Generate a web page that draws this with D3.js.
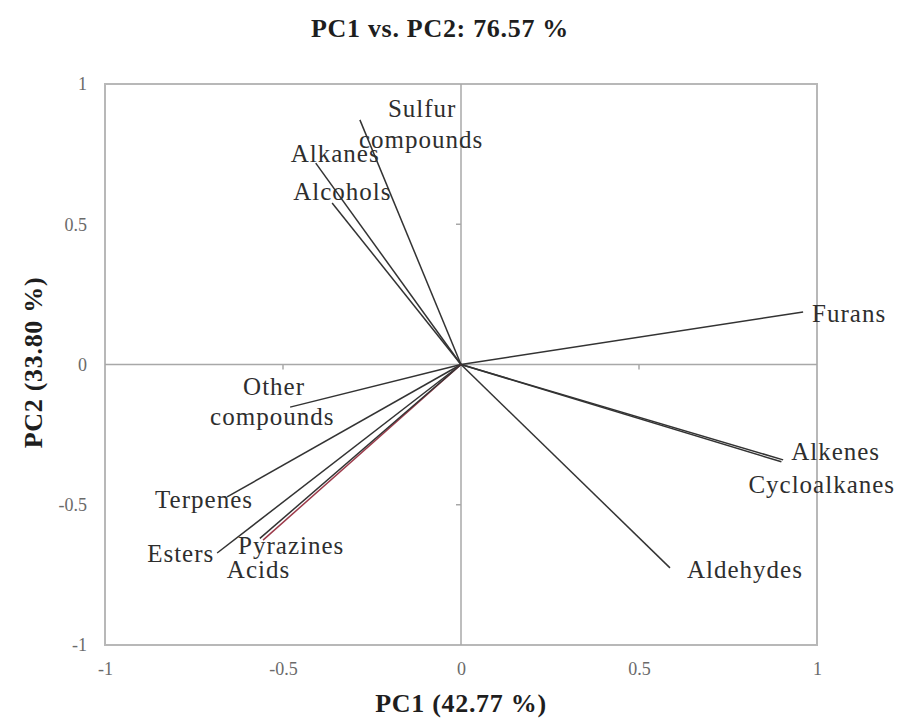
<!DOCTYPE html>
<html>
<head>
<meta charset="utf-8">
<style>
  body { margin: 0; background: #fff; }
  svg { display: block; }
  .frame { fill: none; stroke: #b8b8b8; stroke-width: 2; }
  .zero line { stroke: #a8a8a8; stroke-width: 1.5; }
  .tick text { font-family: "Liberation Serif", serif; font-size: 18px; fill: #6a6a6a; }
  .vec { stroke: #333; stroke-width: 1.5; fill: none; }
  .lab { font-family: "Liberation Serif", serif; font-size: 25px; fill: #2e2e2e; letter-spacing: 1px; }
  .ttl { font-family: "Liberation Serif", serif; font-weight: bold; font-size: 26px; fill: #1e1e1e; letter-spacing: 0.7px; }
</style>
</head>
<body>
<svg id="chart" width="915" height="721"></svg>
<script src="https://cdn.jsdelivr.net/npm/d3@7"></script>
<script>
// loadings
var variables = ["Sulfur compounds", "Alkanes", "Alcohols", "Furans", "Alkenes", "Cycloalkanes",
                 "Aldehydes", "Other compounds", "Terpenes", "Esters", "Pyrazines", "Acids"];
var pc1 = [-0.284, -0.408, -0.362, 0.961, 0.905, 0.900, 0.587, -0.480, -0.657, -0.685, -0.556, -0.565];
var pc2 = [0.872, 0.718, 0.576, 0.187, -0.340, -0.347, -0.725, -0.152, -0.472, -0.672, -0.626, -0.620];
var ticks = [-1, -0.5, 0, 0.5, 1];
var title = "PC1 vs. PC2: 76.57 %";
var xTitle = "PC1 (42.77 %)";
var yTitle = "PC2 (33.80 %)";

// label placement (pixels from the arrow end), one entry per line of text
var labelPos = {
  "Sulfur compounds": [["Sulfur", 28, -3], ["compounds", -1, 28]],
  "Alkanes": [["Alkanes", -25, -1]],
  "Alcohols": [["Alcohols", -39, -3]],
  "Furans": [["Furans", 9, 10]],
  "Alkenes": [["Alkenes", 8, 0]],
  "Cycloalkanes": [["Cycloalkanes", -33, 31]],
  "Aldehydes": [["Aldehydes", 17, 10]],
  "Other compounds": [["Other", -47, -12], ["compounds", -80, 18]],
  "Terpenes": [["Terpenes", -72, 11]],
  "Esters": [["Esters", -70, 9]],
  "Pyrazines": [["Pyrazines", -25, 14]],
  "Acids": [["Acids", -33, 40]]
};
var lineColor = { "Pyrazines": "#9c3a4a" };

var svg = d3.select("#chart");
var x = d3.scaleLinear().domain([-1, 1]).range([105, 817]);
var y = d3.scaleLinear().domain([-1, 1]).range([645, 84]);
var fmt = function (d) { return String(d); };

// outer tick labels
svg.append("g")
  .attr("transform", "translate(0," + y(-1) + ")")
  .call(d3.axisBottom(x).tickValues(ticks).tickSize(0).tickPadding(17).tickFormat(fmt))
  .call(function (g) { g.select(".domain").remove(); });

svg.append("g")
  .attr("transform", "translate(" + x(-1) + ",0)")
  .call(d3.axisLeft(y).tickValues(ticks).tickSize(0).tickPadding(18).tickFormat(fmt))
  .call(function (g) { g.select(".domain").remove(); });

// frame
svg.append("rect").attr("class", "frame")
  .attr("x", x(-1)).attr("y", y(1))
  .attr("width", x(1) - x(-1)).attr("height", y(-1) - y(1));

// zero lines with small ticks
var zero = svg.append("g").attr("class", "zero");
zero.append("line").attr("x1", x(-1)).attr("x2", x(1)).attr("y1", y(0)).attr("y2", y(0));
zero.append("line").attr("x1", x(0)).attr("x2", x(0)).attr("y1", y(1)).attr("y2", y(-1));
zero.selectAll(".tx").data([-0.5, 0.5]).enter().append("line")
  .attr("x1", function (d) { return x(d); }).attr("x2", function (d) { return x(d); })
  .attr("y1", y(0)).attr("y2", y(0) + 5);
zero.selectAll(".ty").data([-0.5, 0.5]).enter().append("line")
  .attr("x1", x(0) - 5).attr("x2", x(0))
  .attr("y1", function (d) { return y(d); }).attr("y2", function (d) { return y(d); });

// loading vectors
var data = variables.map(function (v, i) { return { name: v, a: pc1[i], b: pc2[i] }; });

svg.append("g").selectAll("line").data(data).enter().append("line")
  .attr("class", "vec")
  .attr("x1", x(0)).attr("y1", y(0))
  .attr("x2", function (d) { return x(d.a); })
  .attr("y2", function (d) { return y(d.b); })
  .style("stroke", function (d) { return lineColor[d.name] || null; });

var labs = svg.append("g");
data.forEach(function (d) {
  labelPos[d.name].forEach(function (p) {
    labs.append("text").attr("class", "lab")
      .attr("x", x(d.a) + p[1]).attr("y", y(d.b) + p[2])
      .text(p[0]);
  });
});

// titles
svg.append("text").attr("class", "ttl")
  .attr("x", 440).attr("y", 37).attr("text-anchor", "middle").text(title);
svg.append("text").attr("class", "ttl")
  .attr("x", x(0)).attr("y", 712).attr("text-anchor", "middle").text(xTitle);
svg.append("text").attr("class", "ttl")
  .attr("transform", "translate(42," + (y(0) - 2) + ") rotate(-90)")
  .attr("text-anchor", "middle").text(yTitle);
</script>
</body>
</html>
